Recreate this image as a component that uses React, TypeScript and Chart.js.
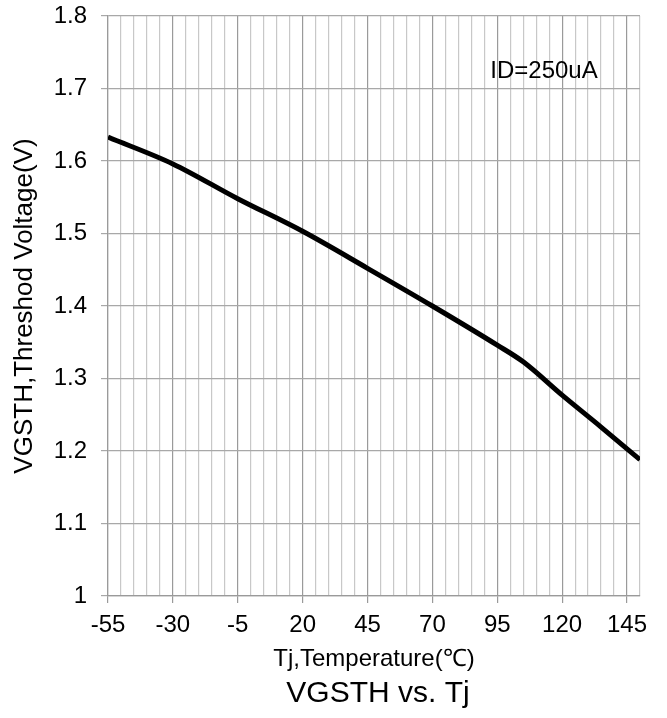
import React, { useEffect, useRef } from "react";
import { Chart, registerables } from "chart.js";

Chart.register(...registerables);

const temperatures = [-55, -30, -5, 20, 45, 70, 95, 105, 120, 135, 150];
const thresholdVoltage = [1.633, 1.596, 1.548, 1.503, 1.452, 1.4, 1.346, 1.323, 1.277, 1.233, 1.188];

const xMin = -55;
const xMax = 150;
const xStep = 5;
const xLabelStep = 25;
const yMin = 1;
const yMax = 1.8;
const yStep = 0.1;

const xTitle = "Tj,Temperature(℃)";
const yTitle = "VGSTH,Threshod Voltage(V)";
const chartTitle = "VGSTH vs. Tj";
const annotationText = "ID=250uA";
const annotationX = 113;
const annotationY = 1.723;

const FONT = "Arial, 'Liberation Sans', sans-serif";

const isMajorX = (v: number) => Math.abs((v - xMin) % xLabelStep) < 1e-6;

const textPlugin = {
  id: "textOverlay",
  afterDraw(chart: any) {
    const { ctx, scales, chartArea } = chart;
    ctx.save();
    ctx.fillStyle = "#000";
    ctx.textAlign = "center";
    ctx.textBaseline = "middle";
    ctx.font = `24px ${FONT}`;
    ctx.fillText(annotationText, scales.x.getPixelForValue(annotationX), scales.y.getPixelForValue(annotationY));
    ctx.font = `30px ${FONT}`;
    ctx.fillText(chartTitle, (chartArea.left + chartArea.right) / 2 + 4, scales.x.bottom - 24);
    ctx.restore();
  },
};

export default function App() {
  const canvasRef = useRef<HTMLCanvasElement | null>(null);

  useEffect(() => {
    const canvas = canvasRef.current;
    if (!canvas) return;
    const chart = new Chart(canvas, {
      type: "line",
      data: {
        datasets: [
          {
            data: temperatures.map((t, i) => ({ x: t, y: thresholdVoltage[i] })),
            borderColor: "#000",
            borderWidth: 5,
            pointRadius: 0,
            cubicInterpolationMode: "monotone",
            fill: false,
          },
        ],
      },
      options: {
        animation: false,
        responsive: false,
        devicePixelRatio: 1,
        layout: { padding: { left: 0, right: 27, top: 16, bottom: 0 } },
        plugins: {
          legend: { display: false },
          tooltip: { enabled: false },
          title: { display: false },
        },
        scales: {
          x: {
            type: "linear",
            min: xMin,
            max: xMax,
            afterFit: (scale: any) => {
              scale.height = 122;
              scale.paddingLeft = 0;
              scale.paddingRight = 0;
            },
            ticks: {
              stepSize: xStep,
              autoSkip: false,
              maxRotation: 0,
              minRotation: 0,
              padding: 8,
              color: "#000",
              font: { family: FONT, size: 24 },
              callback: (v: any) => (isMajorX(Number(v)) ? String(v) : ""),
            },
            grid: {
              color: (c: any) => (isMajorX(c.tick?.value ?? 0) ? "#9a9a9a" : "#c8c8c8"),
              lineWidth: 1.2,
              tickLength: 7,
              tickColor: (c: any) => (isMajorX(c.tick?.value ?? 0) ? "#9a9a9a" : "rgba(0,0,0,0)"),
            },
            border: { color: "#9a9a9a", width: 1.2 },
            title: {
              display: true,
              text: xTitle,
              color: "#000",
              font: { family: FONT, size: 24 },
              padding: { top: 0, bottom: 44 },
            },
          },
          y: {
            type: "linear",
            min: yMin,
            max: yMax,
            afterFit: (scale: any) => {
              scale.width = 108;
              scale.paddingTop = 0;
              scale.paddingBottom = 0;
            },
            ticks: {
              stepSize: yStep,
              padding: 14,
              color: "#000",
              font: { family: FONT, size: 24 },
              callback: (v: any) => String(Math.round(Number(v) * 10) / 10),
            },
            grid: {
              color: "#a8a8a8",
              lineWidth: 1.2,
              tickLength: 7,
              tickColor: "#a8a8a8",
            },
            border: { color: "#9a9a9a", width: 1.2 },
            title: {
              display: true,
              text: yTitle,
              color: "#000",
              font: { family: FONT, size: 26 },
              padding: { top: 9, bottom: 0 },
            },
          },
        },
      },
      plugins: [textPlugin],
    } as any);
    return () => chart.destroy();
  }, []);

  return (
    <div style={{ position: "absolute", left: 0, top: 0, width: 667, height: 718, background: "#fff" }}>
      <canvas ref={canvasRef} width={667} height={718} />
    </div>
  );
}
